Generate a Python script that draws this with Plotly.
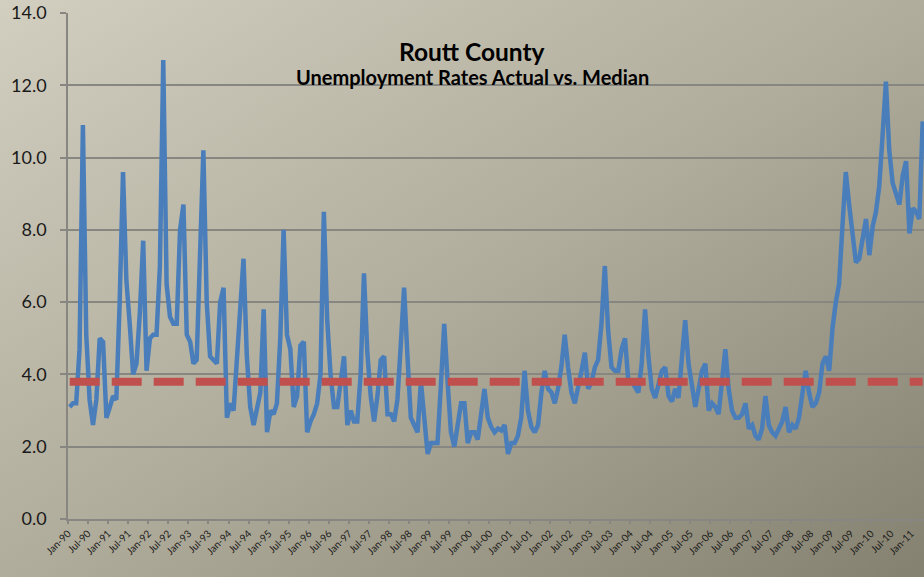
import base64
import pandas as pd
import plotly.graph_objects as go

# Routt County monthly unemployment rate (%), one list per year
rate_1990 = [3.1, 3.2, 3.2, 4.7, 10.9, 5.1, 3.3, 2.6, 3.3, 5.0, 4.9, 2.8]
rate_1991 = [3.1, 3.4, 3.3, 6.0, 9.6, 6.6, 5.4, 4.0, 4.3, 5.7, 7.7, 4.1]
rate_1992 = [5.0, 5.1, 5.1, 7.0, 12.7, 6.5, 5.6, 5.4, 5.4, 8.0, 8.7, 5.1]
rate_1993 = [4.9, 4.3, 4.4, 7.0, 10.2, 6.0, 4.5, 4.4, 4.3, 6.0, 6.4, 2.8]
rate_1994 = [3.2, 3.0, 4.5, 5.9, 7.2, 4.5, 3.1, 2.6, 3.0, 3.5, 5.8, 2.4]
rate_1995 = [3.0, 2.9, 3.2, 5.0, 8.0, 5.1, 4.7, 3.1, 3.4, 4.8, 4.9, 2.4]
rate_1996 = [2.7, 2.9, 3.2, 4.0, 8.5, 5.5, 4.0, 3.1, 3.1, 3.8, 4.5, 2.6]
rate_1997 = [3.0, 2.7, 2.7, 4.0, 6.8, 4.6, 3.4, 2.7, 3.4, 4.4, 4.5, 2.9]
rate_1998 = [2.9, 2.7, 3.3, 4.8, 6.4, 4.5, 2.8, 2.6, 2.4, 3.8, 2.8, 1.8]
rate_1999 = [2.1, 2.1, 2.1, 3.7, 5.4, 3.8, 2.4, 2.0, 2.6, 3.2, 3.2, 2.1]
rate_2000 = [2.4, 2.4, 2.2, 2.9, 3.6, 2.8, 2.55, 2.4, 2.5, 2.45, 2.6, 1.8]
rate_2001 = [2.1, 2.1, 2.3, 2.8, 4.1, 3.0, 2.55, 2.4, 2.6, 3.5, 4.1, 3.6]
rate_2002 = [3.5, 3.2, 3.6, 4.2, 5.1, 4.2, 3.5, 3.2, 3.6, 4.1, 4.6, 3.6]
rate_2003 = [3.8, 4.2, 4.4, 5.4, 7.0, 5.2, 4.2, 4.1, 4.1, 4.7, 5.0, 3.8]
rate_2004 = [3.8, 3.65, 3.5, 4.3, 5.8, 4.5, 3.6, 3.35, 3.75, 4.1, 4.2, 3.4]
rate_2005 = [3.25, 3.6, 3.35, 4.5, 5.5, 4.3, 3.6, 3.1, 3.6, 4.1, 4.3, 3.0]
rate_2006 = [3.2, 3.1, 2.9, 3.9, 4.7, 3.6, 3.0, 2.8, 2.8, 2.9, 3.2, 2.5]
rate_2007 = [2.6, 2.3, 2.2, 2.5, 3.4, 2.6, 2.4, 2.3, 2.5, 2.7, 3.1, 2.4]
rate_2008 = [2.6, 2.5, 2.8, 3.4, 4.1, 3.5, 3.1, 3.2, 3.5, 4.3, 4.5, 4.1]
rate_2009 = [5.3, 6.0, 6.5, 8.1, 9.6, 8.7, 7.8, 7.1, 7.2, 7.8, 8.3, 7.3]
rate_2010 = [8.1, 8.5, 9.2, 10.6, 12.1, 10.2, 9.3, 9.0, 8.7, 9.5, 9.9, 7.9]
rate_2011 = [8.6, 8.5, 8.3, 11.0]

median_rate = 3.8

rates = (rate_1990 + rate_1991 + rate_1992 + rate_1993 + rate_1994 + rate_1995
         + rate_1996 + rate_1997 + rate_1998 + rate_1999 + rate_2000 + rate_2001
         + rate_2002 + rate_2003 + rate_2004 + rate_2005 + rate_2006 + rate_2007
         + rate_2008 + rate_2009 + rate_2010 + rate_2011)
months = pd.date_range("1990-01-01", periods=len(rates), freq="MS")

W, H = 924, 577
L, R, T, B = 68, 0, 13, 58
pw, ph = W - L - R, H - T - B

# gradient background (Excel style fill)
svg = (
    f'<svg xmlns="http://www.w3.org/2000/svg" width="{W}" height="{H}" preserveAspectRatio="none">'
    '<defs><linearGradient id="g" x1="0" y1="0" x2="1" y2="1">'
    '<stop offset="0" stop-color="#d2cec0"/>'
    '<stop offset="0.5" stop-color="#b1ad9c"/>'
    '<stop offset="1" stop-color="#858170"/>'
    '</linearGradient></defs>'
    f'<rect width="{W}" height="{H}" fill="url(#g)"/></svg>'
)
bg_src = "data:image/svg+xml;base64," + base64.b64encode(svg.encode()).decode()

fig = go.Figure()

fig.add_trace(go.Scatter(
    x=months, y=rates,
    xperiod="M1", xperiodalignment="middle",
    mode="lines",
    line=dict(color="#4a7ebb", width=4.5),
    name="Actual",
))

fig.add_trace(go.Scatter(
    x=months, y=[median_rate] * len(months),
    xperiod="M1", xperiodalignment="middle",
    mode="lines",
    line=dict(color="#c0504d", width=8, dash="30px,12px"),
    name="Median",
))

fig.update_layout(
    width=W, height=H,
    margin=dict(l=L, r=R, t=T, b=B),
    paper_bgcolor="rgba(0,0,0,0)",
    plot_bgcolor="rgba(0,0,0,0)",
    showlegend=False,
    font=dict(family="Lato, Open Sans, sans-serif", color="#1a1a1a"),
    images=[dict(
        source=bg_src, xref="paper", yref="paper",
        x=-L / pw, y=1 + T / ph, sizex=W / pw, sizey=H / ph,
        xanchor="left", yanchor="top", sizing="stretch", layer="below",
    )],
    annotations=[
        dict(text="<b>Routt County</b>", xref="paper", yref="paper",
             x=(472 - L) / pw, y=(H - B - 35) / ph, showarrow=False,
             font=dict(size=24.5, color="#000000")),
        dict(text="<b>Unemployment Rates Actual vs. Median</b>", xref="paper", yref="paper",
             x=(472 - L) / pw, y=(H - B - 63) / ph, showarrow=False,
             font=dict(size=20, color="#000000")),
    ],
)

fig.update_yaxes(
    range=[0, 14], dtick=2, tickformat=".1f",
    automargin=False,
    showgrid=True, gridcolor="#878681", gridwidth=1.5,
    zeroline=False,
    showline=True, linecolor="#878681", linewidth=1.5,
    ticks="outside", ticklen=6, tickcolor="#878681", tickwidth=1.5,
    ticklabelstandoff=10,
    tickfont=dict(size=18, color="#1a1a1a"),
)

fig.update_xaxes(
    type="date",
    range=["1990-01-01", "2011-04-28"],
    automargin=False,
    tick0="1990-01-01", dtick="M6", tickformat="%b-%y",
    tickangle=-45,
    showgrid=False, zeroline=False,
    showline=True, linecolor="#878681", linewidth=1.5,
    ticks="outside", ticklen=3, tickcolor="#878681", tickwidth=1.5,
    tickfont=dict(size=10, color="#1a1a1a"),
)

# drop the default page margin so the chart fills the window
fig.write_html("out.html", config={"displayModeBar": False},
               post_script="document.body.style.margin='0';")
